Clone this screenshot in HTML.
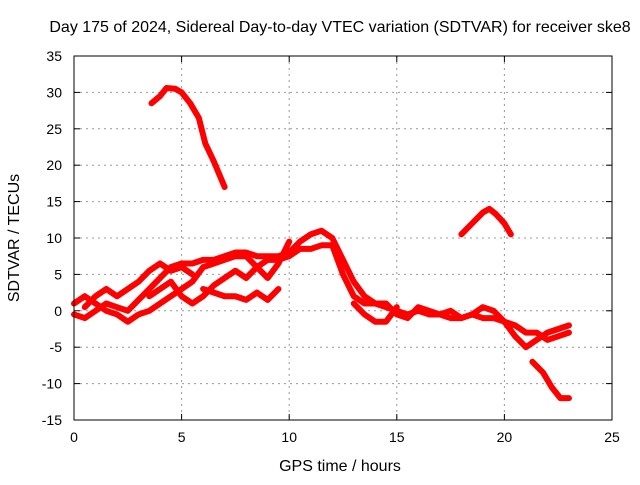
<!DOCTYPE html>
<html><head><meta charset="utf-8"><style>
body{margin:0;background:#fff}
svg text{font-family:"Liberation Sans",sans-serif;font-size:14px;fill:#000}
svg text.big{font-size:16px}
</style></head><body>
<svg id="c" width="640" height="480" xmlns="http://www.w3.org/2000/svg">
<text class="big" x="340" y="32" text-anchor="middle">Day 175 of 2024, Sidereal Day-to-day VTEC variation (SDTVAR) for receiver ske8</text>
<text class="big" x="340" y="471" text-anchor="middle">GPS time / hours</text>
<text class="big" transform="translate(19,238) rotate(-90)" text-anchor="middle">SDTVAR / TECUs</text>
<g id="grid"></g><g id="ticks"></g><g id="series"></g>
<rect x="74" y="56" width="538" height="364" fill="none" stroke="#000" stroke-width="1"/>
</svg>
<script>
const xTicks=[0,5,10,15,20,25];
const yTicks=[-15,-10,-5,0,5,10,15,20,25,30,35];
const arcTop=[[3.6,28.5],[4,29.5],[4.3,30.6],[4.7,30.5],[5,30],[5.4,28.5],[5.8,26.5],[6.1,23],[6.5,20.5],[7,17]];
const arcHump=[[18,10.5],[18.5,12],[19,13.5],[19.3,14],[19.6,13.3],[20,12],[20.3,10.5]];
const tail=[[21.3,-7],[21.8,-8.5],[22.2,-10.5],[22.6,-12],[23,-12]];
const strand1=[[0,-0.5],[0.5,-1],[1,0],[1.5,1],[2,0.5],[2.5,0],[3,1.5],[3.5,3],[4,4.5],[4.5,6],[5,6.5],[5.5,6.5],[6,7],[6.5,7],[7,7.5],[7.5,8],[8,8],[8.5,7.5],[9,7.5],[9.5,7.5],[10,8],[10.5,9.5],[11,10.5],[11.5,11],[12,10],[12.5,7],[13,4],[13.5,2],[14,1],[14.5,0.5],[15,0],[15.5,-0.5],[16,0],[16.5,-0.5],[17,-0.5],[17.5,-1],[18,-1],[18.5,-0.5],[19,-1],[19.5,-1],[20,-1.5],[20.5,-2],[21,-3],[21.5,-3],[22,-4],[22.5,-3.5],[23,-3]];
const strand2=[[0,1],[0.5,2],[1,1],[1.5,0],[2,-0.5],[2.5,-1.5],[3,-0.5],[3.5,0],[4,1],[4.5,2],[5,3],[5.5,4],[6,6],[6.5,6.5],[7,7],[7.5,7.5],[8,7.5],[8.5,6],[9,7],[9.5,7],[10,7.5],[10.5,8.5],[11,8.5],[11.5,9],[12,9],[12.5,5],[13,2],[13.5,1],[14,1],[14.5,1],[15,-0.5],[15.5,-1],[16,0.5],[16.5,0],[17,-0.5],[17.5,0],[18,-1],[18.5,-0.5],[19,0.5],[19.5,0],[20,-1.5],[20.5,-3.5],[21,-5],[21.5,-4],[22,-3],[22.5,-2.5],[23,-2]];
const strand3=[[3.5,2],[4,3],[4.5,4],[5,2],[5.5,1],[6,2],[6.5,3.5],[7,4.5],[7.5,5.5],[8,4.5],[8.5,6],[9,4.5],[9.5,6.5],[10,9.5]];
const strand4=[[6,3],[6.5,2.5],[7,2],[7.5,2],[8,1.5],[8.5,2.5],[9,1.5],[9.5,3]];
const strand5=[[0.5,0.5],[1,2],[1.5,3],[2,2],[2.5,3],[3,4],[3.5,5.5],[4,6.5],[4.5,5.5],[5,6],[5.5,5]];
const strand6=[[13,1],[13.5,-0.5],[14,-1.5],[14.5,-1.5],[15,0.5]];
const allSeries=[arcTop,arcHump,tail,strand1,strand2,strand3,strand4,strand5,strand6];
const X=h=>74+h*538/25, Y=v=>56+(35-v)*364/50;
const NS="http://www.w3.org/2000/svg";
const mk=(t,a,p)=>{const e=document.createElementNS(NS,t);for(const k in a)e.setAttribute(k,a[k]);p.appendChild(e);return e;};
const grid=document.getElementById('grid'),ticks=document.getElementById('ticks'),ser=document.getElementById('series');
xTicks.forEach(t=>{
  if(t>0&&t<25){const g=mk('line',{x1:X(t),x2:X(t),y1:56,y2:420,stroke:'#999','stroke-dasharray':'2,4'},grid);
  
  }
  mk('line',{x1:X(t),x2:X(t),y1:420,y2:414,stroke:'#000'},ticks);
  mk('line',{x1:X(t),x2:X(t),y1:56,y2:62,stroke:'#000'},ticks);
  const tx=mk('text',{x:X(t),y:442,'text-anchor':'middle'},ticks);tx.textContent=t;
  
  
});
yTicks.forEach(t=>{
  if(t>-15&&t<35){const g=mk('line',{x1:74,x2:612,y1:Y(t),y2:Y(t),stroke:'#999','stroke-dasharray':'2,4'},grid);
  
  }
  mk('line',{x1:74,x2:80,y1:Y(t),y2:Y(t),stroke:'#000'},ticks);
  mk('line',{x1:606,x2:612,y1:Y(t),y2:Y(t),stroke:'#000'},ticks);
  const tx=mk('text',{x:62,y:Y(t)+5,'text-anchor':'end'},ticks);tx.textContent=t;
  
  
});
allSeries.forEach((s,i)=>{
  const p=mk('polyline',{points:s.map(d=>X(d[0])+','+Y(d[1])).join(' '),fill:'none',stroke:'#f00','stroke-width':6,'stroke-linejoin':'round','stroke-linecap':'round'},ser);
  
  
});
</script>
</body></html>
